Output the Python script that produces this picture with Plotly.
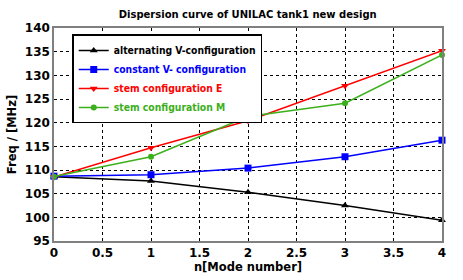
import plotly.graph_objects as go

modes = [0, 1, 2, 3, 4]
alt_v = [108.6, 107.7, 105.3, 102.5, 99.4]
const_v = [108.7, 109.0, 110.4, 112.8, 116.3]
stem_e = [108.5, 114.7, 120.4, 127.8, 135.2]
stem_m = [108.6, 112.8, 121.3, 124.1, 134.3]

series = [
    ("alternating V-configuration", alt_v, "#000000", "triangle-up"),
    ("constant V- configuration", const_v, "#0000ff", "square"),
    ("stem configuration E", stem_e, "#ff0000", "triangle-down"),
    ("stem configuration M", stem_m, "#3cb01c", "circle"),
]

fig = go.Figure()
for name, vals, col, sym in series:
    fig.add_trace(go.Scatter(
        x=modes, y=vals, mode="lines+markers",
        name=f"<span style='color:{col}'>{name}</span>",
        line=dict(color=col, width=1.5),
        marker=dict(color=col, symbol=sym, size=7 if sym != "circle" else 6),
        cliponaxis=False,
    ))

font = "DejaVu Sans, Verdana, sans-serif"
lfont = "DejaVu Sans Condensed, DejaVu Sans, sans-serif"
fig.update_layout(
    width=463, height=280,
    margin=dict(l=54, r=21, t=28, b=39),
    paper_bgcolor="white", plot_bgcolor="white",
    font=dict(family=font, size=12, color="black"),
    title=dict(text="<b>Dispersion curve of UNILAC tank1 new design</b>",
               x=0.535, xanchor="center", y=0.95, yanchor="middle",
               font=dict(size=10)),
    legend=dict(x=0.047, y=0.97, xanchor="left", yanchor="top",
                bordercolor="black", borderwidth=1.5, bgcolor="white",
                font=dict(size=10.3, family=lfont, weight="bold"),
                tracegroupgap=0, itemwidth=30),
    showlegend=True,
)
fig.update_xaxes(range=[0, 4], dtick=0.5, showgrid=True, gridcolor="black",
                 griddash="dot", gridwidth=1, showline=True, linecolor="#808080",
                 linewidth=1.5, mirror=True, zeroline=False, ticks="",
                 automargin=False,
                 tickfont=dict(size=12, weight="bold"),
                 title=dict(text="<b>n[Mode number]</b>", font=dict(size=11.5), standoff=4))
fig.update_yaxes(range=[95, 140], dtick=5, showgrid=True, gridcolor="black",
                 griddash="dot", gridwidth=1, showline=True, linecolor="#808080",
                 linewidth=1.5, mirror=True, zeroline=False, ticks="",
                 automargin=False,
                 tickfont=dict(size=12, weight="bold"),
                 title=dict(text="<b>Freq / [MHz]</b>", font=dict(size=11.5), standoff=6))
fig.write_html("out.html", config={"displayModeBar": False},
               post_script="document.body.style.margin='0';")
